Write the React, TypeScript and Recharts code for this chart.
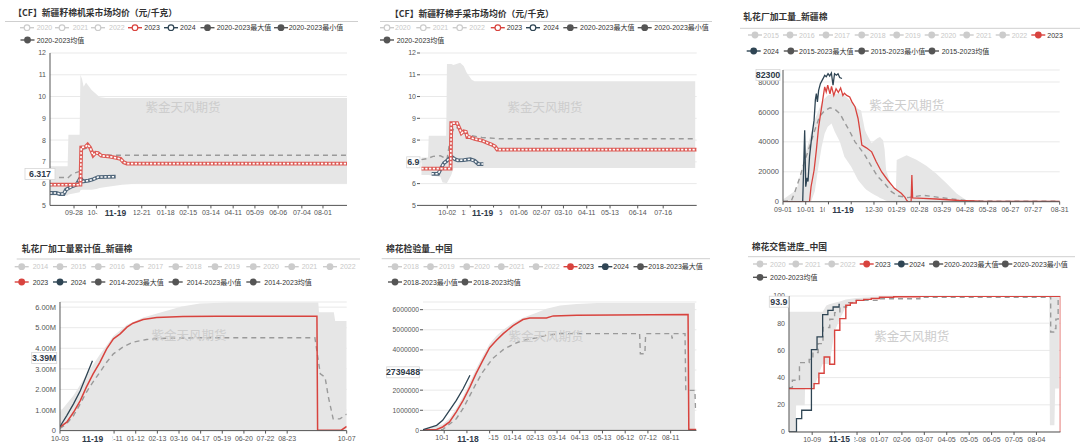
import React from 'react';
import { ComposedChart, Line, Area, XAxis, YAxis, CartesianGrid } from 'recharts';

const RED = '#d8433e';
const DARK = '#2f4554';
const AVG = '#9a9a9a';
const BAND = '#e6e6e6';
const OFF = '#cccccc';
const STAT = '#555555';
const SANS = "'Liberation Sans', 'Noto Sans CJK SC', sans-serif";
const CJK = "'Noto Sans CJK SC', 'Liberation Sans', sans-serif";

type Pt = [number, number];
type Tri = [number, number, number];

// ---------------- Chart 1: 新疆籽棉机采市场均价 ----------------
const c1TickDays = [30, 58, 86, 114.6, 144.6, 172.5, 201, 228.8, 256, 285, 314.6, 341];
const c1TickLabels = ['09-28', '10-26', '11-23', '12-21', '01-18', '02-15', '03-14', '04-11', '05-09', '06-06', '07-04', '08-01'];
const c1YTicks = [5, 6, 7, 8, 9, 10, 11, 12];
const c1Band: Tri[] = [[0, 5.45, 6.8], [22, 5.45, 6.8], [23, 5.5, 8.25], [37, 5.6, 8.25], [38, 5.7, 11.0], [40, 5.72, 10.8], [42, 5.72, 10.45], [45, 5.72, 10.65], [48, 5.72, 10.5], [52, 5.72, 10.3], [58, 5.75, 10.1], [62, 5.8, 9.97], [70, 5.85, 9.93], [90, 5.95, 9.93], [110, 6.0, 9.93], [371, 6.0, 9.93]];
const c1Avg: Pt[] = [[0, 6.28], [18, 6.28], [22, 6.25], [28, 6.45], [36, 6.55], [38, 6.62], [40, 7.55], [47, 7.65], [56, 7.38], [64, 7.33], [80, 7.3], [371, 7.3]];
const c1Y2023: Pt[] = [[0, 5.95], [38, 5.95], [39, 7.66], [44, 7.68], [47, 7.79], [50, 7.66], [54, 7.3], [57, 7.42], [60, 7.4], [64, 7.28], [75, 7.24], [83, 7.18], [88, 7.14], [92, 6.98], [96, 6.92], [371, 6.92]];
const c1Y2024: Pt[] = [[0, 5.57], [8, 5.57], [12, 5.52], [17, 5.52], [20, 5.72], [27, 5.87], [33, 5.95], [38, 6.26], [41, 6.1], [48, 6.14], [54, 6.2], [60, 6.3], [82, 6.32]];

// ---------------- Chart 2: 新疆籽棉手采市场均价 ----------------
const c2TickDays = [37.5, 69, 101, 136, 167, 197, 229, 261, 299, 334];
const c2TickLabels = ['10-02', '11-03', '12-05', '01-06', '02-07', '03-10', '04-11', '05-13', '06-14', '07-16'];
const c2YTicks = [5, 6, 7, 8, 9, 10, 11, 12];
const c2Band: Tri[] = [[2, 6.4, 7.2], [11, 6.4, 7.2], [12, 6.4, 8.2], [28, 6.3, 8.2], [31, 6.05, 8.2], [36, 6.03, 8.2], [37, 6.03, 11.5], [43, 6.4, 11.5], [46, 6.72, 11.45], [50, 6.72, 11.5], [55, 6.72, 11.55], [60, 6.72, 11.4], [64, 6.72, 11.1], [71, 6.72, 10.77], [75, 6.72, 10.7], [378, 6.72, 10.7]];
const c2Avg: Pt[] = [[2, 7.1], [10, 7.15], [18, 7.25], [28, 7.28], [33, 7.2], [37, 7.1], [42, 8.17], [47, 8.6], [52, 8.55], [58, 8.35], [68, 8.22], [85, 8.12], [110, 8.06], [380, 8.06]];
const c2Y2023: Pt[] = [[2, 6.69], [42, 6.69], [43, 8.78], [51, 8.78], [54, 8.55], [57, 8.32], [60, 8.4], [63, 8.38], [65, 8.14], [68, 8.14], [75, 8.05], [85, 7.98], [92, 7.88], [98, 7.8], [103, 7.71], [106, 7.56], [380, 7.56]];
const c2Y2024: Pt[] = [[16, 6.45], [25, 6.45], [29, 6.71], [33, 6.95], [37, 7.05], [41, 7.18], [44, 7.22], [48, 7.12], [52, 7.07], [60, 7.08], [69, 7.12], [75, 7.05], [80, 6.9], [87, 6.9]];

// ---------------- Chart 3: 轧花厂加工量_新疆棉 ----------------
const c3TickDays = [0, 30, 60, 90, 120, 150, 180, 210, 240, 270, 300, 330, 365];
const c3TickLabels = ['09-01', '10-01', '10-31', '11-30', '12-30', '01-29', '02-28', '03-29', '04-28', '05-28', '06-27', '07-27', '08-31'];
const c3YTicks = [0, 20000, 40000, 60000, 80000, 88000];
const c3Band: Tri[] = [[0, 0, 1500], [18, 0, 8000], [26, 0, 25000], [35, 0, 42000], [37, 0, 46000], [42, 7000, 55000], [46, 21100, 60000], [51, 36700, 66000], [55, 45600, 69000], [59, 50000, 71000], [64, 52200, 72000], [68, 47000, 72000], [75, 40000, 72500], [81, 30000, 71000], [90, 23300, 67000], [99, 14500, 62000], [103, 12000, 61000], [108, 8900, 48000], [110, 8000, 45600], [117, 5600, 39000], [121, 4500, 41100], [125, 3500, 42500], [128, 2500, 43300], [132, 1600, 41000], [134, 1100, 35000], [136, 600, 21100], [143, 0, 10000], [149, 0, 9000], [150, 0, 27800], [163, 0, 31000], [176, 0, 28000], [189, 0, 24000], [202, 0, 18900], [216, 0, 12200], [229, 0, 5500], [242, 0, 1000], [365, 0, 800]];
const c3Avg: Pt[] = [[0, 300], [11, 500], [15, 5600], [22, 16000], [29, 27800], [35, 36700], [42, 47800], [48, 56700], [55, 61000], [62, 62700], [68, 62000], [75, 58900], [81, 53300], [88, 47000], [95, 40000], [101, 36000], [108, 31100], [117, 23300], [125, 16700], [134, 12200], [143, 6700], [152, 3800], [165, 2700], [185, 4300], [207, 2800], [242, 700], [280, 400], [365, 300]];
const c3Y2023: Pt[] = [[0, 0], [35, 0], [37, 10000], [41, 21000], [44, 34500], [47, 50000], [51, 63300], [53, 70000], [55, 76700], [57, 73300], [59, 77800], [62, 72000], [64, 77000], [67, 71000], [70, 75500], [73, 73000], [76, 76000], [79, 71000], [81, 72500], [84, 71000], [88, 70000], [91, 66700], [95, 63500], [99, 55600], [102, 45600], [104, 37800], [110, 36000], [117, 33300], [123, 26700], [130, 20000], [138, 14500], [147, 8900], [156, 5600], [161, 2900], [163, 1000], [165, 0], [169, 0], [170, 17800], [171, 2500], [185, 2200], [202, 1800], [233, 800], [260, 300], [365, 200]];
const c3Y2024: Pt[] = [[0, 0], [26, 0], [28.6, 47800], [30, 10000], [31.7, 16000], [33, 13500], [35, 30000], [37.4, 41100], [41, 54500], [42.7, 68000], [44, 72200], [45.4, 66700], [47, 74400], [49.3, 78900], [52.8, 82200], [55, 84400], [57, 83500], [59.4, 85600], [61.6, 84000], [63.8, 86000], [66, 77800], [68, 85500], [70.4, 84500], [72.6, 85500], [74.8, 83000], [77.8, 82300]];

// ---------------- Chart 4: 轧花厂加工量累计值_新疆棉 (M) ----------------
const c4TickIdx = [0, 80, 112, 144, 176, 208, 240, 272, 304, 336, 424];
const c4TickLabels = ['10-03', '12-11', '01-12', '02-13', '03-16', '04-17', '05-19', '06-20', '07-22', '08-23', '10-07'];
const c4YTicks = [0, 1, 2, 3, 4, 5, 6];
const c4Band: Tri[] = [[0, 0, 0.9], [20, 0, 1.7], [39, 0, 2.7], [59, 0, 3.7], [79, 0, 4.6], [99, 0, 5.15], [123, 0, 5.5], [150, 0, 5.75], [180, 0, 6.03], [207, 0, 6.18], [250, 0, 6.22], [382, 0, 6.22], [383, 0, 5.75], [405, 0, 5.75], [407, 0, 5.33], [424, 0, 5.33]];
const c4Avg: Pt[] = [[0, 0.1], [10, 0.34], [20, 0.73], [30, 1.3], [39, 1.86], [47, 2.27], [59, 2.84], [69, 3.32], [79, 3.73], [94, 4.08], [108, 4.3], [128, 4.43], [158, 4.49], [207, 4.51], [377, 4.51], [385, 2.76], [392, 2.6], [397, 1.62], [404, 0.57], [414, 0.57], [424, 0.8]];
const c4Y2023: Pt[] = [[0, 0.17], [10, 0.41], [20, 0.89], [30, 1.46], [39, 2.11], [49, 2.76], [59, 3.32], [69, 3.97], [79, 4.46], [89, 4.7], [99, 5.03], [108, 5.22], [123, 5.4], [143, 5.5], [182, 5.54], [232, 5.56], [380, 5.56], [381, 0.02], [416, 0.02], [424, 0.2]];
const c4Y2024: Pt[] = [[0, 0.2], [10, 0.73], [20, 1.3], [30, 1.94], [39, 2.67], [48, 3.39]];

// ---------------- Chart 5: 棉花检验量_中国 (M) ----------------
const c5TickDays = [28, 58, 88, 118, 148, 177, 207, 237, 267, 297, 327];
const c5TickLabels = ['10-16', '11-15', '12-15', '01-14', '02-13', '03-14', '04-13', '05-13', '06-12', '07-12', '08-11'];
const c5YTicks = [0, 1, 2, 3, 4, 5, 6];
const c5Band: Tri[] = [[0, 0, 0.05], [26, 0, 0.3], [35, 0, 0.6], [44, 0, 1.1], [53, 0, 1.7], [62, 0, 2.4], [70, 0, 3.05], [79, 0, 3.7], [88, 0, 4.3], [97, 0, 4.7], [106, 0, 5.0], [119, 0, 5.35], [132, 0, 5.6], [150, 0, 5.85], [163, 0, 6.05], [181, 0, 6.2], [203, 0, 6.28], [230, 0, 6.33], [359, 0, 6.33]];
const c5Avg: Pt[] = [[0, 0], [26, 0.04], [44, 0.58], [53, 1.09], [62, 1.74], [70, 2.32], [79, 2.91], [92, 3.57], [106, 4.01], [119, 4.28], [132, 4.48], [150, 4.6], [163, 4.73], [181, 4.81], [286, 4.81], [287, 3.81], [293, 3.81], [294, 4.81], [328, 4.81], [329, 4.56], [330, 4.81], [346, 4.81], [347, 1.99], [359, 1.99], [360, 0.99]];
const c5Y2023: Pt[] = [[0, 0.02], [18, 0.05], [26, 0.17], [35, 0.42], [44, 0.92], [53, 1.49], [62, 2.16], [70, 2.82], [79, 3.48], [88, 4.11], [97, 4.48], [106, 4.81], [119, 5.21], [132, 5.51], [141, 5.59], [163, 5.59], [172, 5.69], [203, 5.72], [350, 5.76], [351, 0.05], [361, 0.05]];
const c5Y2024: Pt[] = [[0, 0.04], [18, 0.25], [26, 0.5], [35, 1.0], [44, 1.49], [53, 2.07], [62, 2.74]];

// ---------------- Chart 6: 棉花交售进度_中国 ----------------
const c6TickIdx = [31, 61, 91, 121, 151, 181, 211, 241, 271, 301, 331];
const c6TickLabels = ['10-09', '11-08', '12-08', '01-07', '02-06', '03-07', '04-05', '05-05', '06-05', '07-05', '08-04'];
const c6YTicks = [0, 20, 40, 60, 80, 100];
const c6Band: Tri[] = [[0, 0, 88.5], [9, 0, 88.5], [9.5, 19.6, 88.5], [21, 19.6, 88.5], [21.5, 31.9, 88.5], [33, 31.9, 88.5], [40, 43, 88.5], [45, 50, 88.5], [50, 50, 93], [54, 49.8, 94], [61, 74, 95], [68, 83, 96], [76, 92, 97.5], [90, 96.5, 98.5], [121, 98.5, 99.6], [175, 99.5, 100], [348, 99.5, 100], [349, 5, 100], [355, 5, 100], [356, 32, 100], [361, 32, 100]];
const c6Avg: Pt[] = [[0, 32.6], [4.5, 38], [14, 51], [27, 53.4], [32, 58.4], [39, 65], [45.5, 76.8], [54.5, 82.9], [61, 87.8], [68, 91.9], [77, 95.1], [90, 96.8], [121, 98], [175, 99], [349, 99.7], [350, 73.5], [354, 76], [357, 83], [360, 99.7], [363, 99.7]];
const c6Y2023: Pt[] = [[0, 31.9], [33.5, 35.6], [40, 43.2], [47, 55.1], [54.5, 49.8], [61, 74.8], [68, 83.4], [76, 93.2], [82, 94.9], [90, 96.8], [100, 97.5], [110, 98.2], [121, 99.1], [140, 99.4], [175, 99.8], [361, 99.8], [363, 0]];
const c6Y2024: Pt[] = [[0, 0], [10, 9.8], [17, 16], [30, 60.6], [37.5, 69.9], [45, 86.3], [52, 89.5], [59, 91.9], [67, 93.9], [68, 93.9]];

// ---------------- generic mini chart ----------------
type S = { pts: Pt[]; color: string; kind: 'tube' | 'plain' | 'dash'; step?: boolean; w?: number };
type Def = {
  x0: number; x1: number; y0: number; y1: number;
  xDomain: [number, number]; yDomain: [number, number];
  xTicks: number[]; xLabels: string[];
  yTicks: number[]; yFmt: (v: number) => string;
  band: Tri[]; series: S[];
  yAxisLine: boolean; yTickLine: boolean; xFont: number; yFont: number;
};

const YW = 70, TM = 12, RM = 24, XH = 26;

function MiniChart({ d }: { d: Def }) {
  const pw = d.x1 - d.x0;
  const ph = d.y1 - d.y0;
  const W = YW + pw + RM;
  const H = TM + ph + XH;
  const labelOf = new Map<number, string>(d.xTicks.map((t, i) => [t, d.xLabels[i]]));
  const bandData = d.band.map(([x, lo, hi]) => ({ x, r: [lo, hi] }));
  const items: React.ReactNode[] = [];
  d.series.forEach((s, i) => {
    const data = s.pts.map(([x, y]) => ({ x, y }));
    const type = s.step ? 'stepAfter' : 'linear';
    if (s.kind === 'tube') {
      items.push(<Line key={i + 'a'} data={data} dataKey="y" type={type} stroke={s.color} strokeWidth={3.8} dot={false} activeDot={false} isAnimationActive={false} connectNulls />);
      items.push(<Line key={i + 'b'} data={data} dataKey="y" type={type} stroke="#ffffff" strokeWidth={1.6} strokeDasharray="2.2 1.6" dot={false} activeDot={false} isAnimationActive={false} connectNulls />);
    } else {
      items.push(<Line key={i + 'p'} data={data} dataKey="y" type={type} stroke={s.color} strokeWidth={s.w ?? 1.4} strokeDasharray={s.kind === 'dash' ? '5 4' : undefined} dot={false} activeDot={false} isAnimationActive={false} connectNulls />);
    }
  });
  return (
    <div style={{ position: 'absolute', left: d.x0 - YW, top: d.y0 - TM, width: W, height: H }}>
      <ComposedChart width={W} height={H} margin={{ top: TM, right: RM, bottom: 0, left: 0 }}>
        <CartesianGrid horizontal vertical={false} stroke="#e9e9e9" />
        <XAxis type="number" dataKey="x" domain={d.xDomain} ticks={d.xTicks} interval={0} allowDataOverflow height={XH}
          tickFormatter={(v: number) => labelOf.get(v) ?? ''}
          axisLine={{ stroke: '#555' }} tickLine={{ stroke: '#555' }} tickSize={3} tickMargin={2}
          tick={{ fontSize: d.xFont, fill: '#555', fontFamily: SANS }} />
        <YAxis type="number" domain={d.yDomain} ticks={d.yTicks} interval={0} allowDataOverflow width={YW}
          tickFormatter={d.yFmt}
          axisLine={d.yAxisLine ? { stroke: '#555' } : false}
          tickLine={d.yTickLine ? { stroke: '#555' } : false}
          tickSize={d.yTickLine ? 3 : 0} tickMargin={d.yTickLine ? 1 : 4}
          tick={{ fontSize: d.yFont, fill: '#555', fontFamily: SANS }} />
        <Area data={bandData} dataKey="r" type="linear" stroke="none" fill={BAND} fillOpacity={1} dot={false} activeDot={false} isAnimationActive={false} connectNulls />
        {items}
      </ComposedChart>
    </div>
  );
}

const fmtPlain = (v: number) => String(v);
const fmtM = (v: number) => (v === 0 ? '0' : v.toFixed(2) + 'M');
const fmtRaw = (v: number) => (v === 0 ? '0' : String(Math.round(v * 1000000)));
const fmtC3 = (v: number) => (v === 88000 ? '' : String(v));

const defs: Def[] = [
  {
    x0: 50, x1: 347, y0: 53.3, y1: 205.7, xDomain: [0, 371], yDomain: [5, 12],
    xTicks: c1TickDays, xLabels: c1TickLabels, yTicks: c1YTicks, yFmt: fmtPlain, band: c1Band,
    series: [
      { pts: c1Avg, color: AVG, kind: 'dash' },
      { pts: c1Y2024, color: '#50667a', kind: 'tube' },
      { pts: c1Y2023, color: '#dd5a55', kind: 'tube' },
    ],
    yAxisLine: true, yTickLine: false, xFont: 7, yFont: 7,
  },
  {
    x0: 420, x1: 696.7, y0: 53.3, y1: 205.7, xDomain: [0, 380], yDomain: [5, 12],
    xTicks: c2TickDays, xLabels: c2TickLabels, yTicks: c2YTicks, yFmt: fmtPlain, band: c2Band,
    series: [
      { pts: c2Avg, color: AVG, kind: 'dash' },
      { pts: c2Y2024, color: '#50667a', kind: 'tube' },
      { pts: c2Y2023, color: '#dd5a55', kind: 'tube' },
    ],
    yAxisLine: false, yTickLine: true, xFont: 7, yFont: 7,
  },
  {
    x0: 783.3, x1: 1060, y0: 70, y1: 201.7, xDomain: [0, 365], yDomain: [0, 88000],
    xTicks: c3TickDays, xLabels: c3TickLabels, yTicks: c3YTicks, yFmt: fmtC3, band: c3Band,
    series: [
      { pts: c3Avg, color: AVG, kind: 'dash' },
      { pts: c3Y2024, color: DARK, kind: 'plain', w: 1.3 },
      { pts: c3Y2023, color: RED, kind: 'plain', w: 1.3 },
    ],
    yAxisLine: true, yTickLine: false, xFont: 7, yFont: 7.5,
  },
  {
    x0: 60, x1: 346.7, y0: 302.1, y1: 430.7, xDomain: [0, 424], yDomain: [0, 6.25],
    xTicks: c4TickIdx, xLabels: c4TickLabels, yTicks: c4YTicks, yFmt: fmtM, band: c4Band,
    series: [
      { pts: c4Avg, color: AVG, kind: 'dash' },
      { pts: c4Y2023, color: RED, kind: 'plain', w: 1.5 },
      { pts: c4Y2024, color: DARK, kind: 'plain', w: 1.3 },
    ],
    yAxisLine: true, yTickLine: false, xFont: 7, yFont: 7.5,
  },
  {
    x0: 423.3, x1: 696.7, y0: 302.3, y1: 430.7, xDomain: [0, 361], yDomain: [0, 6.38],
    xTicks: c5TickDays, xLabels: c5TickLabels, yTicks: c5YTicks, yFmt: fmtRaw, band: c5Band,
    series: [
      { pts: c5Avg, color: AVG, kind: 'dash' },
      { pts: c5Y2023, color: RED, kind: 'plain', w: 1.5 },
      { pts: c5Y2024, color: DARK, kind: 'plain', w: 1.3 },
    ],
    yAxisLine: false, yTickLine: true, xFont: 7, yFont: 6.8,
  },
  {
    x0: 789.3, x1: 1060.7, y0: 295.7, y1: 431.7, xDomain: [0, 363], yDomain: [0, 100],
    xTicks: c6TickIdx, xLabels: c6TickLabels, yTicks: c6YTicks, yFmt: fmtPlain, band: c6Band,
    series: [
      { pts: c6Avg, color: AVG, kind: 'dash', step: true },
      { pts: c6Y2023, color: RED, kind: 'plain', step: true, w: 1.4 },
      { pts: c6Y2024, color: DARK, kind: 'plain', step: true, w: 1.3 },
    ],
    yAxisLine: true, yTickLine: false, xFont: 7, yFont: 7,
  },
];

// ---------------- overlay: titles, legends, watermarks, pointer labels ----------------
type Leg = [number, number, string, string, boolean];
type Panel = {
  title: string; tx: number; ty: number;
  sep: [number, number, number];
  hollow: boolean;
  rows: { y: number; items: Leg[] }[];
  mark: [number, number];
  xp: [number, number, number, string];
  yp: [number, number, number, string];
};

const panels: Panel[] = [
  {
    title: '【CF】新疆籽棉机采市场均价（元/千克）', tx: 13.3, ty: 12.7, sep: [5, 358, 21.5], hollow: true,
    rows: [
      { y: 27.7, items: [[27, 36.7, '2020', OFF, false], [62, 72.7, '2021', OFF, false], [98, 109, '2022', OFF, false], [135, 144.3, '2023', RED, true], [171, 180, '2024', DARK, true], [207.5, 216.7, '2020-2023最大值', STAT, true], [281, 288.7, '2020-2023最小值', STAT, true]] },
      { y: 40, items: [[27.5, 36.7, '2020-2023均值', STAT, true]] },
    ],
    mark: [183, 106], xp: [115.5, 213, 36, '11-19'], yp: [25, 55, 174, '6.317'],
  },
  {
    title: '【CF】新疆籽棉手采市场均价（元/千克）', tx: 390, ty: 13, sep: [380, 712, 21.5], hollow: true,
    rows: [
      { y: 27.7, items: [[387, 395, '2020', OFF, false], [423.3, 432.7, '2021', OFF, false], [459.7, 469.3, '2022', OFF, false], [497.8, 506.7, '2023', RED, true], [533, 543.3, '2024', DARK, true], [570.3, 580, '2020-2023最大值', STAT, true], [644.7, 654.3, '2020-2023最小值', STAT, true]] },
      { y: 40, items: [[387, 396.7, '2020-2023均值', STAT, true]] },
    ],
    mark: [545, 106.7], xp: [482.7, 213, 34, '11-19'], yp: [406.7, 420, 162.3, '6.9'],
  },
  {
    title: '轧花厂加工量_新疆棉', tx: 743.3, ty: 16, sep: [740, 1080, 28.3], hollow: false,
    rows: [
      { y: 35, items: [[755, 763.3, '2015', OFF, false], [790, 799, '2016', OFF, false], [826, 834.3, '2017', OFF, false], [861.7, 870, '2018', OFF, false], [896.7, 905, '2019', OFF, false], [931.7, 940.7, '2020', OFF, false], [966.7, 976, '2021', OFF, false], [1002.7, 1011.7, '2022', OFF, false], [1038.3, 1047.3, '2023', RED, true]] },
      { y: 51, items: [[753.7, 763.3, '2024', DARK, true], [790.8, 799, '2015-2023最大值', STAT, true], [861.7, 870.7, '2015-2023最小值', STAT, true], [932, 941.7, '2015-2023均值', STAT, true]] },
    ],
    mark: [906.7, 104], xp: [843, 210, 36, '11-19'], yp: [756, 780, 75, '82300'],
  },
  {
    title: '轧花厂加工量累计值_新疆棉', tx: 21.7, ty: 248, sep: [16.7, 360, 259], hollow: false,
    rows: [
      { y: 266.7, items: [[21.7, 32.7, '2014', OFF, false], [60, 70.7, '2015', OFF, false], [98.3, 109.3, '2016', OFF, false], [136.7, 147.7, '2017', OFF, false], [175.7, 186, '2018', OFF, false], [215, 224.3, '2019', OFF, false], [253.3, 263.3, '2020', OFF, false], [291.7, 301.7, '2021', OFF, false], [330, 340, '2022', OFF, false]] },
      { y: 282, items: [[21.7, 32.7, '2023', RED, true], [60, 70.7, '2024', DARK, true], [98.3, 109.3, '2014-2023最大值', STAT, true], [175.7, 186.7, '2014-2023最小值', STAT, true], [253.3, 264.3, '2014-2023均值', STAT, true]] },
    ],
    mark: [189, 334], xp: [92.7, 439, 40, '11-19'], yp: [31.7, 56.7, 358, '3.39M'],
  },
  {
    title: '棉花检验量_中国', tx: 386, ty: 248, sep: [381.7, 710, 258.7], hollow: false,
    rows: [
      { y: 266.7, items: [[395, 403.3, '2018', OFF, false], [430.5, 439, '2019', OFF, false], [466.7, 474.3, '2020', OFF, false], [501.3, 509, '2021', OFF, false], [536, 544, '2022', OFF, false], [570.5, 578.3, '2023', RED, true], [605.3, 613.3, '2024', DARK, true], [640.5, 648.3, '2018-2023最大值', STAT, true]] },
      { y: 282, items: [[395, 403.3, '2018-2023最小值', STAT, true], [465, 473.3, '2018-2023均值', STAT, true]] },
    ],
    mark: [546, 335], xp: [468, 439, 40, '11-18'], yp: [386.7, 419.3, 372.3, '2739488'],
  },
  {
    title: '棉花交售进度_中国', tx: 751.7, ty: 246.7, sep: [748, 1075, 256.7], hollow: false,
    rows: [
      { y: 264, items: [[760, 770, '2020', OFF, false], [795.8, 805, '2021', OFF, false], [831.7, 840, '2022', OFF, false], [866.7, 875, '2023', RED, true], [901.3, 909.3, '2024', DARK, true], [936.2, 944, '2020-2023最大值', STAT, true], [1005.3, 1013.3, '2020-2023最小值', STAT, true]] },
      { y: 277.3, items: [[760, 770, '2020-2023均值', STAT, true]] },
    ],
    mark: [911.7, 335.7], xp: [839.3, 439, 30, '11-15'], yp: [769.3, 788.3, 301.7, '93.9'],
  },
];

function LegendIcon({ cx, y, color, hollow }: { cx: number; y: number; color: string; hollow: boolean }) {
  return (
    <g>
      <line x1={cx - 7} x2={cx + 7} y1={y} y2={y} stroke={color} strokeWidth={1.4} />
      {hollow ? (
        <circle cx={cx} cy={y} r={2.8} fill="#ffffff" stroke={color} strokeWidth={1.2} />
      ) : (
        <circle cx={cx} cy={y} r={3.4} fill={color} />
      )}
    </g>
  );
}

function Overlay() {
  return (
    <svg width={1080} height={448} style={{ position: 'absolute', left: 0, top: 0, pointerEvents: 'none' }}>
      {panels.map((p, pi) => (
        <g key={pi}>
          <text x={p.tx} y={p.ty} dominantBaseline="central" fontSize={8.8} fontWeight="bold" fill="#333" fontFamily={CJK}>{p.title}</text>
          <line x1={p.sep[0]} x2={p.sep[1]} y1={p.sep[2]} y2={p.sep[2]} stroke="#cfcfcf" strokeWidth={1} />
          {p.rows.map((r, ri) => (
            <g key={ri}>
              {r.items.map((it, ii) => (
                <g key={ii}>
                  <LegendIcon cx={it[0]} y={r.y} color={it[3]} hollow={p.hollow && (it[2].length === 4)} />
                  <text x={it[1]} y={r.y} dominantBaseline="central" fontSize={7} fill={it[4] ? '#333' : '#c8c8c8'} fontFamily={SANS}>{it[2]}</text>
                </g>
              ))}
            </g>
          ))}
          <text x={p.mark[0]} y={p.mark[1]} textAnchor="middle" dominantBaseline="central" fontSize={12.5} fill="#cdcdcd" fontFamily={CJK}>紫金天风期货</text>
          <rect x={p.xp[0] - p.xp[2] / 2} y={p.xp[1] - 5.5} width={p.xp[2]} height={11} fill="#ffffff" />
          <text x={p.xp[0]} y={p.xp[1]} textAnchor="middle" dominantBaseline="central" fontSize={8.5} fontWeight="bold" fill="#2f3b4a" fontFamily={SANS}>{p.xp[3]}</text>
          <rect x={p.yp[0]} y={p.yp[2] - 5.5} width={p.yp[1] - p.yp[0]} height={11} fill="#ffffff" stroke="#d6d6d6" strokeWidth={0.8} />
          <text x={(p.yp[0] + p.yp[1]) / 2} y={p.yp[2]} textAnchor="middle" dominantBaseline="central" fontSize={8.8} fontWeight="bold" fill="#2f3b4a" fontFamily={SANS}>{p.yp[3]}</text>
        </g>
      ))}
    </svg>
  );
}

export default function App() {
  return (
    <div style={{ position: 'absolute', left: 0, top: 0, width: 1080, height: 448, background: '#ffffff', overflow: 'hidden' }}>
      {defs.map((d, i) => (
        <MiniChart key={i} d={d} />
      ))}
      <Overlay />
    </div>
  );
}
